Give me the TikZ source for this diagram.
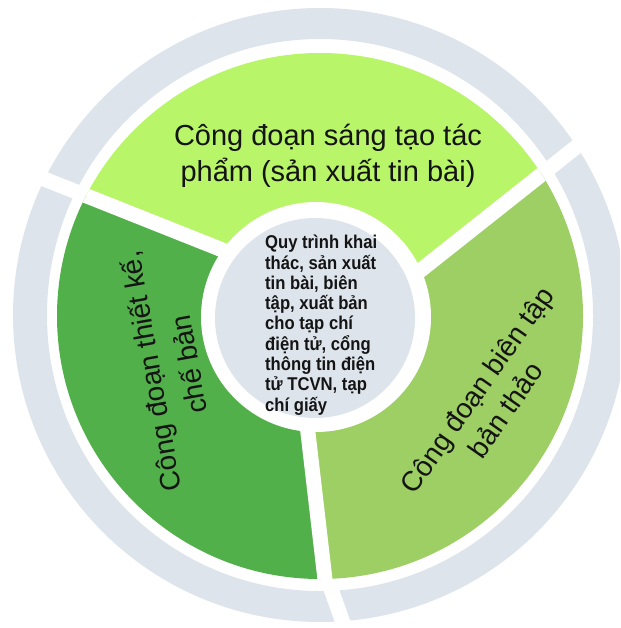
\documentclass[tikz,border=0pt]{standalone}
\usepackage{fontspec}
\setmainfont{Liberation Sans}
\newfontfamily\centerfont[FakeStretch=0.9]{Liberation Sans}
\definecolor{ringgray}{RGB}{222,228,235}
\definecolor{topgreen}{RGB}{185,245,104}
\definecolor{leftgreen}{RGB}{82,176,74}
\definecolor{rightgreen}{RGB}{158,207,100}
\definecolor{txt}{RGB}{20,20,20}
\begin{document}
\begin{tikzpicture}[x=1pt,y=-1pt,
  gapline/.style={draw=white,line width=15pt},
  segtext/.style={font=\fontsize{28}{35}\selectfont,text=txt,align=center,inner sep=0pt}]
\useasboundingbox (0,0) rectangle (620,628);
\clip (0,0) rectangle (620,628);
\coordinate (C) at (320,316);
% gap line end points (green ring)
\coordinate (I1) at (330,342); \coordinate (O1) at (657,83);
\coordinate (I2) at (313,286); \coordinate (O2) at (-64,136);
\coordinate (I3) at (290.7,284); \coordinate (O3) at (335.5,670);
% gap line end points (gray ring, bottom)
\coordinate (G3a) at (310,530); \coordinate (G3b) at (352,648);
% outer gray ring
\fill[ringgray,even odd rule] (320,315) circle[radius=307pt]
  (320,315) ellipse[x radius=273pt,y radius=276pt];
\draw[gapline] (I1) -- (O1);
\draw[gapline] (I2) -- (O2);
\draw[gapline] (G3a) -- (G3b);
% green segments
\begin{scope}
  \clip (C) circle[radius=263pt];
  \fill[topgreen] (I2) -- (O2) -- (-100,-100) -- (720,-100) -- (O1) -- (I1) -- cycle;
  \fill[rightgreen] (I1) -- (O1) -- (760,760) -- (O3) -- (I3) -- cycle;
  \fill[leftgreen] (I3) -- (O3) -- (-100,760) -- (O2) -- (I2) -- cycle;
  \draw[gapline] (I1) -- (O1);
  \draw[gapline] (I2) -- (O2);
  \draw[gapline] (I3) -- (O3);
\end{scope}
% centre
\fill[white] (316,317) circle[radius=115pt];
\fill[ringgray] (315,318) circle[radius=100pt];
% texts
\node[segtext,font=\fontsize{29}{36}\selectfont] (topText) at (328,156)
  {Công đoạn sáng tạo tác\\phẩm (sản xuất tin bài)};
\node[segtext,rotate=100,font=\fontsize{28}{39}\selectfont] (leftText) at (169,368)
  {Công đoạn thiết kế,\\chế bản};
\node[segtext,rotate=55] (rightText) at (491,400)
  {Công đoạn biên tập\\bản thảo};
\node[anchor=north west,inner sep=0pt,align=left,text=txt,
  font={\centerfont\bfseries\fontsize{18.5}{20.3}\selectfont}] (centerText) at (265,235)
  {Quy trình khai\\thác, sản xuất\\tin bài, biên\\tập, xuất bản\\cho tạp chí\\điện tử, cổng\\thông tin điện\\tử TCVN, tạp\\chí giấy};
\end{tikzpicture}
\end{document}
